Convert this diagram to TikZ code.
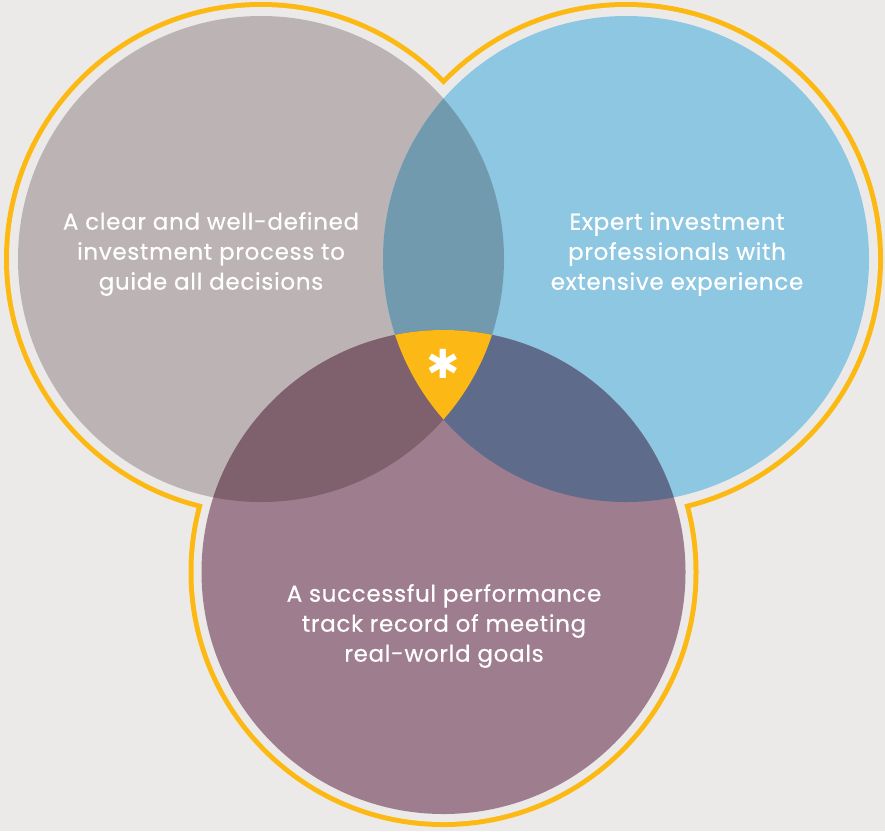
\documentclass[tikz,border=0pt]{standalone}
\usepackage{fontspec}
\setmainfont{Poppins}[LetterSpace=3,FakeBold=0.5]
\newfontfamily\symfont{DejaVu Sans}
\definecolor{bg}{HTML}{ECEAE8}
\definecolor{ylw}{HTML}{FDB913}
\definecolor{cl}{HTML}{BCB3B4}
\definecolor{cr}{HTML}{8DC7E1}
\definecolor{cb}{HTML}{9E7D8E}
\definecolor{clr}{HTML}{719AAF}
\definecolor{clb}{HTML}{7F616E}
\definecolor{crb}{HTML}{5E6B8B}
\definecolor{cc}{HTML}{FCB814}
\begin{document}
\begin{tikzpicture}[x=1pt,y=-1pt,
  txt/.style={text=white, align=center, inner sep=0pt, font=\fontsize{23}{30}\selectfont},
  star/.style={text=white, inner sep=0pt, font=\symfont\fontsize{40}{40}\selectfont}]
\fill[bg] (0,0) rectangle (885,831);
\useasboundingbox (0,0) rectangle (885,831);
\coordinate (L) at (261,259);
\coordinate (R) at (626,259);
\coordinate (B) at (443.5,572);
% yellow outline of the union
\fill[ylw] (L) circle[radius=257pt] (R) circle[radius=257pt] (B) circle[radius=255pt];
\fill[bg] (L) circle[radius=252pt] (R) circle[radius=252pt] (B) circle[radius=250pt];
% circles
\fill[cl] (L) circle[radius=243pt];
\fill[cr] (R) circle[radius=243pt];
\fill[cb] (B) circle[radius=242pt];
\begin{scope}
  \clip (R) circle[radius=243pt];
  \fill[crb] (B) circle[radius=242pt];
\end{scope}
\begin{scope}
  \clip (L) circle[radius=243pt];
  \fill[clr] (R) circle[radius=243pt];
  \fill[clb] (B) circle[radius=242pt];
  \clip (R) circle[radius=243pt];
  \fill[cc] (B) circle[radius=242pt];
\end{scope}
\node[txt] (tl) at (211,254) {A clear and well-defined\\investment process to\\guide all decisions};
\node[txt] (tr) at (677,254) {Expert investment\\professionals with\\extensive experience};
\node[txt] (tb) at (444,626) {A successful performance\\track record of meeting\\real-world goals};
\node[star] (st) at (443,364) {✱};
\end{tikzpicture}
\end{document}
